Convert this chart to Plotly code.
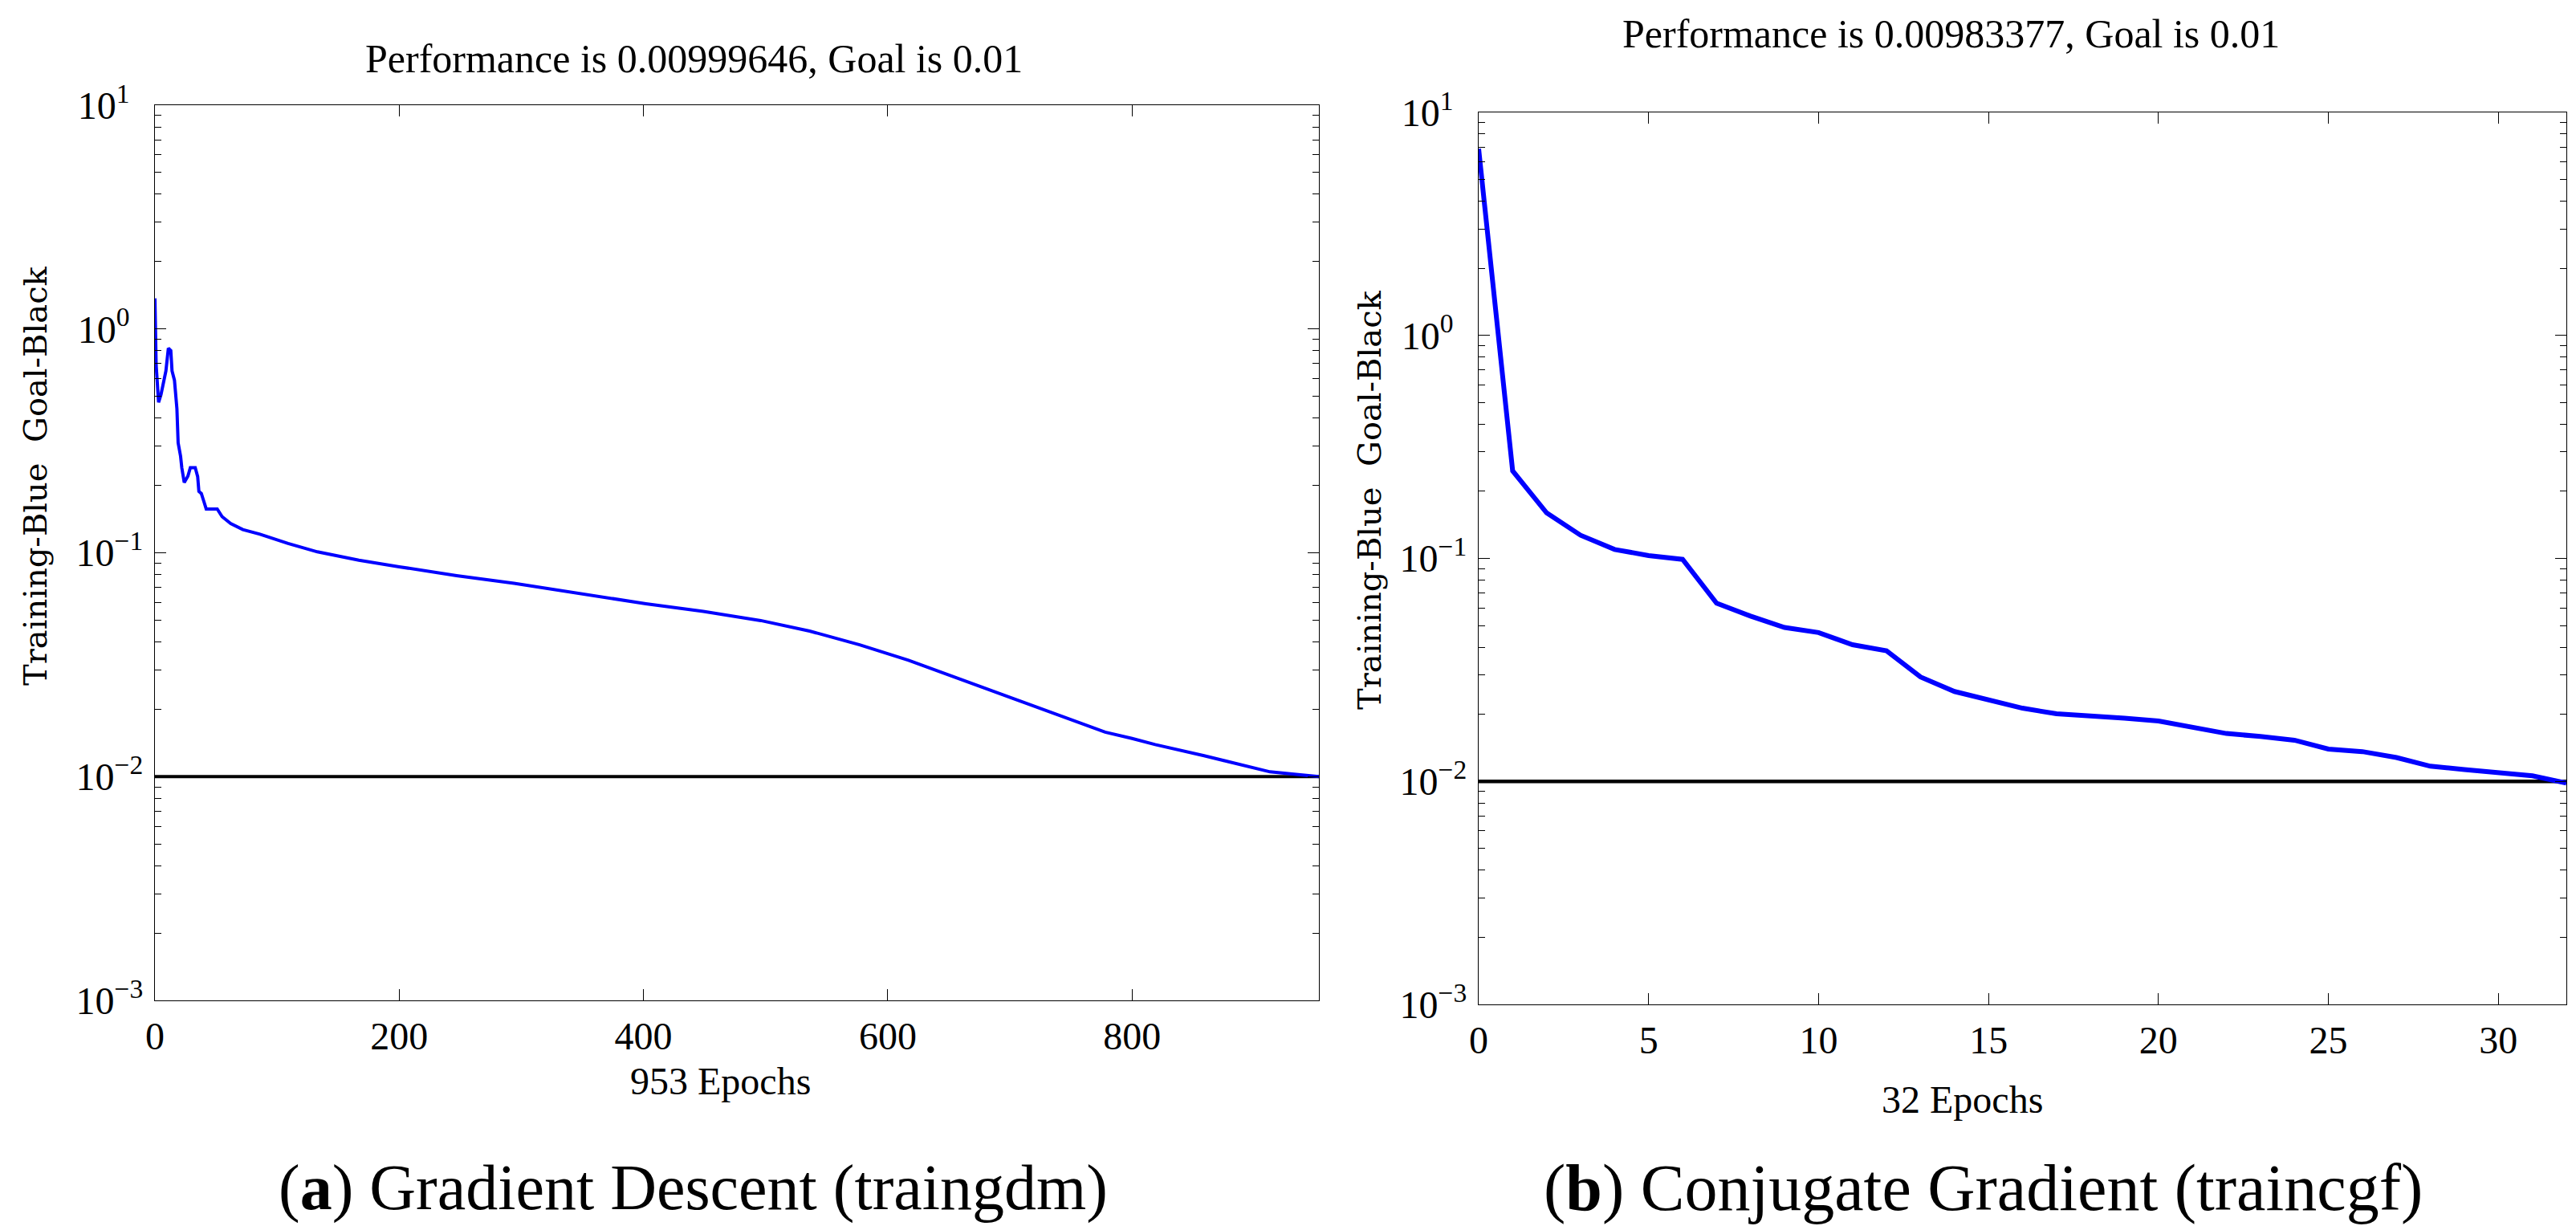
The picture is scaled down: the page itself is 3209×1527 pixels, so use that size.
import plotly.graph_objects as go

# -------------------------------
# Datos
# -------------------------------
# (a) traingdm - 953 épocas
epocas_gd = [0, 1, 3, 5, 9, 11, 13, 14, 16, 18, 19, 21, 22, 24, 27, 29, 33, 35, 36, 38,
             40, 42, 51, 55, 62, 72, 86, 109, 133, 167, 200, 247, 294, 348, 402, 449,
             496, 536, 577, 617, 657, 698, 738, 778, 800, 819, 859, 875, 890, 913, 931,
             949, 953]
perf_gd = [1.37, 0.69, 0.47, 0.51, 0.65, 0.82, 0.80, 0.65, 0.59, 0.44, 0.31, 0.27, 0.24,
           0.206, 0.22, 0.24, 0.24, 0.219, 0.188, 0.184, 0.17, 0.157, 0.157, 0.145,
           0.135, 0.127, 0.121, 0.110, 0.101, 0.0927, 0.0866, 0.079, 0.073, 0.0659,
           0.0592, 0.0547, 0.0498, 0.0447, 0.0388, 0.0331, 0.0275, 0.0229, 0.019,
           0.0158, 0.0148, 0.0139, 0.0124, 0.0118, 0.0112, 0.0105, 0.01028, 0.0100,
           0.00999646]

# (b) traincgf - 32 épocas
epocas_cg = list(range(33))
perf_cg = [6.87, 0.247, 0.16, 0.127, 0.1097, 0.103, 0.099, 0.063, 0.0551, 0.049, 0.0465,
           0.041, 0.0385, 0.0294, 0.0253, 0.0233, 0.0213, 0.0201, 0.0197, 0.0192, 0.01866,
           0.0176, 0.0164, 0.0159, 0.0153, 0.01396, 0.0136, 0.0128, 0.0117, 0.0113,
           0.0110, 0.0106, 0.00983377]

meta = 0.01
max_gd = 953
max_cg = 32

ticks_y = [0.001, 0.01, 0.1, 1, 10]
textos_y = ["10<sup>−3</sup>", "10<sup>−2</sup>", "10<sup>−1</sup>",
            "10<sup>0\u2007</sup>", "10<sup>1\u2007</sup>"]

# -------------------------------
# Geometría (en píxeles de la figura)
# -------------------------------
W, H = 3209, 1527


def px(x):
    return x / W


def py(y):
    return 1 - y / H


SERIF = "Liberation Serif, Times New Roman, serif"

fig = go.Figure()

# --- Panel (a) ---
fig.add_trace(go.Scatter(x=[0, max_gd], y=[meta, meta], mode="lines",
                         line=dict(color="black", width=4),
                         xaxis="x", yaxis="y", showlegend=False))
fig.add_trace(go.Scatter(x=epocas_gd, y=perf_gd, mode="lines",
                         line=dict(color="#0000FF", width=4),
                         xaxis="x", yaxis="y", showlegend=False))

# --- Panel (b) ---
fig.add_trace(go.Scatter(x=[0, max_cg], y=[meta, meta], mode="lines",
                         line=dict(color="black", width=4.5),
                         xaxis="x2", yaxis="y2", showlegend=False))
fig.add_trace(go.Scatter(x=epocas_cg, y=perf_cg, mode="lines",
                         line=dict(color="#0000FF", width=6),
                         xaxis="x2", yaxis="y2", showlegend=False))

eje = dict(
    showline=True, linecolor="black", linewidth=1.3, mirror="ticks",
    ticks="inside", ticklen=14, tickwidth=1.3, tickcolor="black",
    showgrid=False, zeroline=False, automargin=False,
    tickfont=dict(family=SERIF, size=48, color="black"),
)

eje_y = dict(
    eje, type="log", range=[-3, 1],
    tickmode="array", tickvals=ticks_y, ticktext=textos_y,
    ticklabelstandoff=4,
    minor=dict(ticks="inside", ticklen=8, tickwidth=1.3, tickcolor="black",
               dtick="D1", showgrid=False),
)

fig.update_layout(
    template="none",
    width=W, height=H, autosize=False,
    margin=dict(l=0, r=0, t=0, b=0, pad=0),
    paper_bgcolor="white", plot_bgcolor="white",
    xaxis=dict(eje, domain=[px(185), px(1635)], range=[0, max_gd], dtick=200,
               tick0=0, anchor="y", ticklabelstandoff=2),
    yaxis=dict(eje_y, domain=[py(1238), py(123)], anchor="x"),
    xaxis2=dict(eje, domain=[px(1834), px(3189)], range=[0, max_cg], dtick=5,
                tick0=0, anchor="y2", ticklabelstandoff=2),
    yaxis2=dict(eje_y, domain=[py(1243), py(132)], anchor="x2"),
)

anotaciones = [
    # títulos
    dict(text="Performance is 0.00999646, Goal is 0.01", x=px(856), y=py(65),
         font=dict(family=SERIF, size=50)),
    dict(text="Performance is 0.00983377, Goal is 0.01", x=px(2422), y=py(34),
         font=dict(family=SERIF, size=50)),
    # etiquetas eje x
    dict(text="953 Epochs", x=px(889), y=py(1338), font=dict(family=SERIF, size=48)),
    dict(text="32 Epochs", x=px(2436), y=py(1361), font=dict(family=SERIF, size=48)),
    # etiquetas eje y
    dict(text="Training-Blue\u00a0 Goal-Black", x=px(36), y=py(585), textangle=-90,
         font=dict(family="DejaVu Serif", size=40)),
    dict(text="Training-Blue\u00a0 Goal-Black", x=px(1698), y=py(615), textangle=-90,
         font=dict(family="DejaVu Serif", size=40)),
    # leyendas inferiores
    dict(text="(<b>a</b>) Gradient Descent (traingdm)", x=px(855), y=py(1471),
         font=dict(family=SERIF, size=80)),
    dict(text="(<b>b</b>) Conjugate Gradient (traincgf)", x=px(2462), y=py(1471),
         font=dict(family=SERIF, size=82)),
]
for a in anotaciones:
    a.update(xref="paper", yref="paper", xanchor="center", yanchor="middle",
             showarrow=False)
    a["font"]["color"] = "black"
fig.update_layout(annotations=anotaciones)

fig.write_html("out.html")
